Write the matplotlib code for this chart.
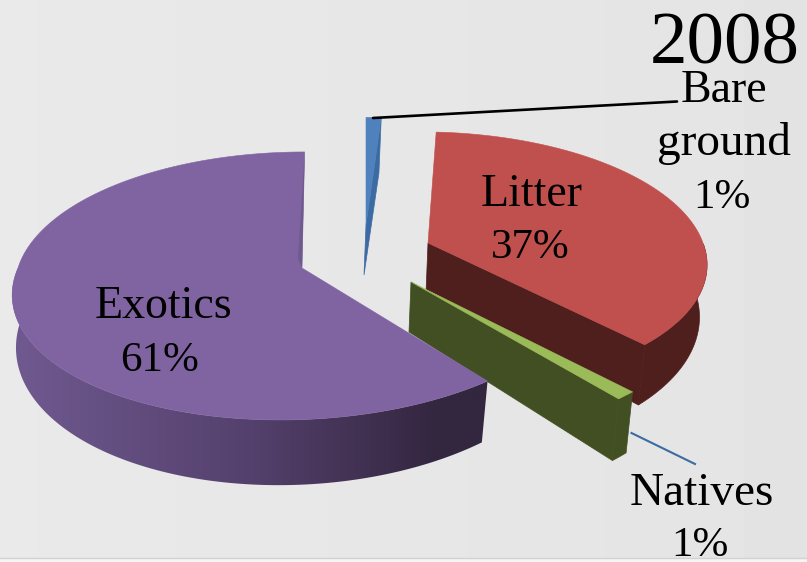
import numpy as np
import matplotlib
matplotlib.use("Agg")
import matplotlib.pyplot as plt
from matplotlib.colors import LinearSegmentedColormap
from matplotlib.patches import Polygon

# --- Datos
title = "2008"
categories = ["Exotics", "Natives", "Litter", "Bare ground"]
values = [61, 1, 37, 1]

plt.rcParams["font.family"] = ["Liberation Serif", "DejaVu Serif"]

# --- Estilo de cada porcion: apice, radios, cizalla arriba/abajo
geom = {
    "Exotics": dict(apex=(302, 268), rx=284, ry=131.6, su=3, sd=19),
    "Natives": dict(apex=(411, 282), rx=292, ry=136, su=0, sd=0),
    "Litter": dict(apex=(428, 243), rx=275, ry=126, su=-8, sd=-10),
    "Bare ground": dict(apex=(366, 225), rx=275, ry=122, su=0, sd=0),
}
top_color = {"Exotics": "#8064a2", "Natives": "#9bbb59", "Litter": "#c0504d", "Bare ground": "#4f81bd"}
side_color = {"Exotics": "#54406c", "Natives": "#414f22", "Litter": "#4f1f1e", "Bare ground": "#3c6ba3"}
exotics_side = LinearSegmentedColormap.from_list(
    "exotics_side", [(0, "#705a91"), (0.5, "#54406c"), (0.88, "#33263f"), (1, "#33263f")])

P = 0.134      # perspectiva
DEPTH = 50     # grosor en el apice


def project(g, theta, bottom=False):
    theta = np.atleast_1d(theta)
    dx, dy = np.cos(theta), np.sin(theta)
    w = 1 / (1 + P * dy)
    x = (g["rx"] * dx + np.where(dy > 0, g["su"], g["sd"]) * dy) * w
    y = -g["ry"] * dy * w
    if bottom:
        return g["apex"][0] - 2 + 0.98 * x, g["apex"][1] + DEPTH + np.where(dy < 0, 1.10, 0.95) * y
    return g["apex"][0] + x, g["apex"][1] + y


def apex_point(g, bottom=False):
    if bottom:
        return g["apex"][0] - 2, g["apex"][1] + DEPTH
    return g["apex"]


def cut_face(g, theta):
    tx, ty = project(g, theta)
    bx, by = project(g, theta, bottom=True)
    return [apex_point(g), (tx[0], ty[0]), (bx[0], by[0]), apex_point(g, bottom=True)]


fig = plt.figure(figsize=(8.07, 5.62), dpi=100)
ax = fig.add_axes([0, 0, 1, 1])
ax.axis("off")

# --- Fondo
grad = np.linspace(0.915, 0.893, 64)[None, :]
ax.imshow(grad, cmap="gray", vmin=0, vmax=1, extent=(0, 807, 558, 0), aspect="auto", zorder=0)
ax.axhspan(558, 562, color="#f5f5f5", lw=0, zorder=0)
ax.plot([0, 807], [558, 558], color="#d2d2d2", lw=1, zorder=0.5)

# --- Angulos a partir de los valores (antihorario desde arriba)
total = sum(values)
edges = np.pi / 2 + np.cumsum([0] + values) / total * 2 * np.pi
spans = {c: (edges[i], edges[i + 1]) for i, c in enumerate(categories)}

zorder = 1
for name in ["Bare ground", "Litter", "Natives", "Exotics"]:
    g = geom[name]
    a0, a1 = spans[name]
    th = np.linspace(a0, a1, 240)
    tx, ty = project(g, th)
    dark = side_color[name]

    # caras de corte visibles
    if name in ("Litter", "Natives", "Bare ground"):
        ax.add_patch(Polygon(cut_face(g, a0), fc=dark, ec=dark, lw=0.5, zorder=zorder))

    # borde exterior, solo la parte frontal
    if name != "Bare ground":
        front = np.sin(th) < 0
        fx, fy = project(g, th[front])
        bx, by = project(g, th[front], bottom=True)
        rim = list(zip(fx, fy)) + list(zip(bx[::-1], by[::-1]))
        if name == "Exotics":
            patch = Polygon(rim, fc="none", ec="none", zorder=zorder + 0.1)
            ax.add_patch(patch)
            ramp = np.linspace(0, 1, 256)[None, :]
            im = ax.imshow(ramp, cmap=exotics_side, extent=(8, 500, 520, 200), aspect="auto", zorder=zorder + 0.1)
            im.set_clip_path(patch)
        else:
            ax.add_patch(Polygon(rim, fc=dark, ec=dark, lw=0.5, zorder=zorder + 0.1))

    # cara superior
    top = [apex_point(g)] + list(zip(tx, ty))
    ax.add_patch(Polygon(top, fc=top_color[name], ec=top_color[name], lw=0.4, zorder=zorder + 0.2))
    zorder += 1

# pequena muesca en el corte de Exotics
g = geom["Exotics"]
sx, sy = project(g, spans["Exotics"][0])
ax.add_patch(Polygon([(sx[0], sy[0]), g["apex"], (g["apex"][0] - 4, g["apex"][1] - 9)],
                     fc="#6f5a8e", ec="none", zorder=zorder))

# --- Lineas guia
ax.plot([373, 677], [118, 101.5], color="black", lw=1.9, solid_capstyle="round", zorder=zorder)
ax.plot([631.5, 695], [433, 464], color="#3c6ba3", lw=1.5, zorder=zorder)

# --- Textos
FS = 33
FP = 31
pct = dict(zip(categories, values))
ax.text(724.5, 63, title, fontsize=54, ha="center", va="baseline", zorder=zorder + 1)
ax.text(724, 102, "Bare", fontsize=FS, ha="center", va="baseline", zorder=zorder + 1)
ax.text(724, 155, "ground", fontsize=FS + 1, ha="center", va="baseline", zorder=zorder + 1)
ax.text(722, 208, f"{pct['Bare ground']}%", fontsize=FP, ha="center", va="baseline", zorder=zorder + 1)
ax.text(532, 206, "Litter", fontsize=FS, ha="center", va="baseline", zorder=zorder + 1)
ax.text(530, 258, f"{pct['Litter']}%", fontsize=FP, ha="center", va="baseline", zorder=zorder + 1)
ax.text(163, 318, "Exotics", fontsize=FS, ha="center", va="baseline", zorder=zorder + 1)
ax.text(160, 371, f"{pct['Exotics']}%", fontsize=FP, ha="center", va="baseline", zorder=zorder + 1)
ax.text(702, 505, "Natives", fontsize=FS + 1, ha="center", va="baseline", zorder=zorder + 1)
ax.text(700, 556, f"{pct['Natives']}%", fontsize=FP, ha="center", va="baseline", zorder=zorder + 1)

ax.set_xlim(0, 807)
ax.set_ylim(562, 0)
fig.savefig("out.png", dpi=100)
